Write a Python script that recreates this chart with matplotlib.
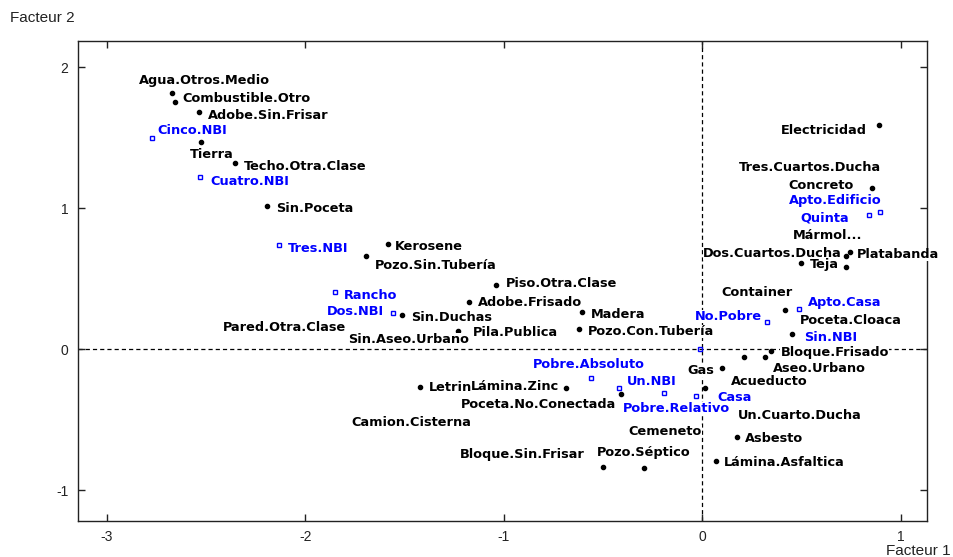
import matplotlib
matplotlib.use("Agg")
import matplotlib.pyplot as plt

# active modalities (black dots): Facteur 1, Facteur 2
act_names = ["Agua.Otros.Medio", "Combustible.Otro", "Adobe.Sin.Frisar", "Tierra",
             "Techo.Otra.Clase", "Sin.Poceta", "Kerosene", "Pozo.Sin.Tubería",
             "Piso.Otra.Clase", "Adobe.Frisado", "Sin.Duchas", "Pila.Publica",
             "Pared.Otra.Clase", "Sin.Aseo.Urbano", "Madera", "Pozo.Con.Tubería",
             "Letrin", "Lámina.Zinc", "Poceta.No.Conectada", "Camion.Cisterna",
             "Bloque.Sin.Frisar", "Pozo.Séptico", "Cemeneto", "Gas", "Acueducto",
             "Un.Cuarto.Ducha", "Asbesto", "Lámina.Asfaltica", "Aseo.Urbano",
             "Bloque.Frisado", "Container", "Poceta.Cloaca", "Dos.Cuartos.Ducha",
             "Teja", "Platabanda", "Mármol...", "Concreto",
             "Tres.Cuartos.Ducha", "Electricidad"]
act_f1 = [-2.670, -2.656, -2.536, -2.524, -2.353, -2.191, -1.582, -1.696,
          -1.039, -1.175, -1.511, -1.229, -2.107, -1.478, -0.605, -0.621,
          -1.422, -0.688, -0.410, -1.467, -0.502, -0.294, -0.188, 0.098, 0.014,
          0.212, 0.173, 0.068, 0.316, 0.348, 0.417, 0.453, 0.724,
          0.496, 0.744, 0.724, 0.855, 0.543, 0.892]
act_f2 = [1.819, 1.755, 1.680, 1.471, 1.318, 1.018, 0.743, 0.663,
          0.456, 0.333, 0.243, 0.130, 0.153, 0.066, 0.266, 0.142,
          -0.265, -0.272, -0.319, -0.517, -0.832, -0.843, -0.584, -0.135, -0.276,
          -0.052, -0.619, -0.790, -0.057, -0.012, 0.279, 0.106, 0.661,
          0.609, 0.690, 0.583, 1.145, 1.285, 1.590]

# supplementary modalities (blue squares)
sup_names = ["Cinco.NBI", "Cuatro.NBI", "Tres.NBI", "Rancho", "Dos.NBI",
             "Pobre.Absoluto", "Pobre.Relativo", "Un.NBI", "Casa", "No.Pobre",
             "Sin.NBI", "Apto.Casa", "Quinta", "Apto.Edificio"]
sup_f1 = [-2.772, -2.529, -2.133, -1.852, -1.560, -0.562, -0.418, -0.191,
          -0.033, -0.010, 0.323, 0.487, 0.841, 0.893]
sup_f2 = [1.501, 1.219, 0.739, 0.404, 0.257, -0.201, -0.272, -0.313,
          -0.329, 0.002, 0.193, 0.282, 0.952, 0.970]

# label placement: offset in pixels from the point, and anchor side
label_pos = {
    "Agua.Otros.Medio": (-33, 12, "left"), "Combustible.Otro": (7, 3, "left"),
    "Adobe.Sin.Frisar": (9, -3, "left"), "Tierra": (-11, -13, "left"),
    "Techo.Otra.Clase": (9, -3, "left"), "Sin.Poceta": (9, -3, "left"),
    "Kerosene": (7, -2, "left"), "Pozo.Sin.Tubería": (9, -10, "left"),
    "Piso.Otra.Clase": (10, 1, "left"), "Adobe.Frisado": (9, 0, "left"),
    "Sin.Duchas": (9, -3, "left"), "Pila.Publica": (14, -2, "left"),
    "Pared.Otra.Clase": (0, 0, "center"), "Sin.Aseo.Urbano": (0, 0, "center"),
    "Madera": (9, -3, "left"), "Pozo.Con.Tubería": (9, -2, "left"),
    "Letrin": (9, -1, "left"), "Lámina.Zinc": (-7, 1, "right"),
    "Poceta.No.Conectada": (-5, -10, "right"), "Camion.Cisterna": (0, 0, "center"),
    "Bloque.Sin.Frisar": (-18, 12, "right"), "Pozo.Séptico": (-47, 16, "left"),
    "Cemeneto": (0, 0, "center"), "Gas": (-8, -2, "right"),
    "Acueducto": (26, 7, "left"), "Un.Cuarto.Ducha": (-7, -59, "left"),
    "Asbesto": (8, -2, "left"), "Lámina.Asfaltica": (8, -2, "left"),
    "Aseo.Urbano": (8, -11, "left"), "Bloque.Frisado": (9, -2, "left"),
    "Container": (7, 17, "right"), "Poceta.Cloaca": (8, 14, "left"),
    "Teja": (9, -1, "left"), "Dos.Cuartos.Ducha": (-4, 3, "right"),
    "Platabanda": (7, -3, "left"), "Mármol...": (16, 32, "right"),
    "Concreto": (-18, 2, "right"), "Tres.Cuartos.Ducha": (0, 0, "center"),
    "Electricidad": (-13, -6, "right"),
    "Cinco.NBI": (5, 7, "left"), "Cuatro.NBI": (10, -4, "left"),
    "Tres.NBI": (9, -3, "left"), "Rancho": (9, -3, "left"),
    "Dos.NBI": (-9, 2, "right"), "Pobre.Absoluto": (-58, 13, "left"),
    "Pobre.Relativo": (3, -21, "left"), "Un.NBI": (-38, 12, "left"),
    "Casa": (22, -2, "left"), "No.Pobre": (-6, 32, "left"),
    "Sin.NBI": (38, -15, "left"), "Apto.Casa": (9, 7, "left"),
    "Quinta": (-20, -3, "right"), "Apto.Edificio": (2, 12, "right"),
}

plt.rcParams["font.family"] = ["Liberation Sans", "DejaVu Sans"]
plt.rcParams["lines.scale_dashes"] = False

fig = plt.figure(figsize=(9.54, 5.57), dpi=100)
ax = fig.add_axes([0.0818, 0.0652, 0.8896, 0.8617])

ax.axhline(0, color="black", lw=0.9, dashes=(3, 2.2), zorder=1)
ax.axvline(0, color="black", lw=0.9, dashes=(3, 2.2), zorder=1)

ax.plot(act_f1, act_f2, "o", color="black", ms=3, zorder=2)
ax.plot(sup_f1, sup_f2, "s", mfc="none", mec="#0000ff", mew=1.0, ms=3.5, zorder=2)


def put_labels(names, xs, ys, color):
    for n, x, y in zip(names, xs, ys):
        dx, dy, ha = label_pos[n]
        ax.annotate(n, (x, y), xytext=(dx, dy), textcoords="offset pixels",
                    ha=ha, va="center", fontsize=9.3, fontweight="bold",
                    family="DejaVu Sans", color=color, zorder=3,
                    bbox=dict(facecolor="white", edgecolor="none", pad=0.0))


put_labels(act_names, act_f1, act_f2, "black")
put_labels(sup_names, sup_f1, sup_f2, "#0000ff")

ax.set_xlim(-3.145, 1.130)
ax.set_ylim(-1.215, 2.187)
ax.set_xticks([-3, -2, -1, 0, 1])
ax.set_yticks([-1, 0, 1, 2])
ax.set_xticklabels(["-3", "-2", "-1", "0", "1"])
ax.set_yticklabels(["-1", "0", "1", "2"])
ax.tick_params(direction="in", length=5, width=1, top=True, right=True,
               labelsize=10, pad=7, colors="#222222")
for s in ax.spines.values():
    s.set_linewidth(1.0)
    s.set_color("#222222")

fig.text(0.011, 0.968, "Facteur 2", fontsize=11, va="center", color="#222222")
fig.text(0.929, 0.011, "Facteur 1", fontsize=11, ha="left", va="center", color="#222222")

fig.savefig("out.png", dpi=100)
